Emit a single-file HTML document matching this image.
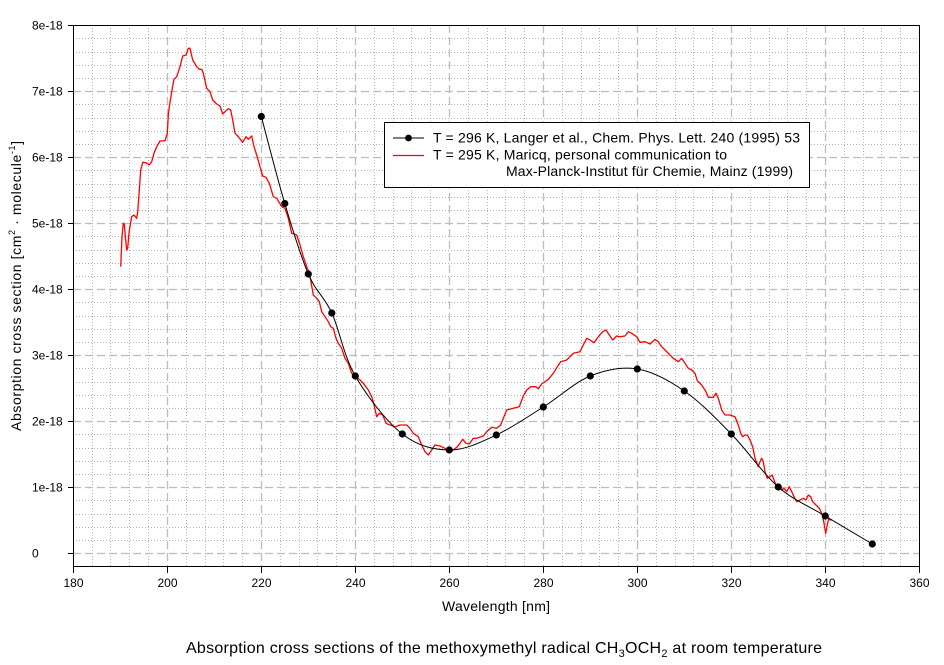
<!DOCTYPE html>
<html><head><meta charset="utf-8"><style>
html,body{margin:0;padding:0;background:#fff;}
svg{display:block;}
text{font-family:"Liberation Sans",Arial,sans-serif;fill:#000;}
</style></head><body>
<svg width="944" height="665" viewBox="0 0 944 665" xmlns="http://www.w3.org/2000/svg">
<rect x="0" y="0" width="944" height="665" fill="#fff"/>
<!-- minor dotted grid -->
<path fill="none" stroke="#b4b4b4" stroke-width="1" stroke-dasharray="1,2" d="
M92.5,25V566 M110.5,25V566 M129.5,25V566 M148.5,25V566
M186.5,25V566 M205.5,25V566 M223.5,25V566 M242.5,25V566
M280.5,25V566 M299.5,25V566 M317.5,25V566 M336.5,25V566
M374.5,25V566 M393.5,25V566 M411.5,25V566 M430.5,25V566
M468.5,25V566 M487.5,25V566 M505.5,25V566 M524.5,25V566
M562.5,25V566 M581.5,25V566 M599.5,25V566 M618.5,25V566
M656.5,25V566 M675.5,25V566 M693.5,25V566 M712.5,25V566
M750.5,25V566 M769.5,25V566 M787.5,25V566 M806.5,25V566
M844.5,25V566 M863.5,25V566 M881.5,25V566 M900.5,25V566
M73,540.5H919 M73,527.5H919 M73,514.5H919 M73,500.5H919
M73,474.5H919 M73,461.5H919 M73,448.5H919 M73,434.5H919
M73,408.5H919 M73,395.5H919 M73,382.5H919 M73,368.5H919
M73,342.5H919 M73,329.5H919 M73,316.5H919 M73,302.5H919
M73,276.5H919 M73,263.5H919 M73,250.5H919 M73,236.5H919
M73,210.5H919 M73,197.5H919 M73,184.5H919 M73,170.5H919
M73,144.5H919 M73,131.5H919 M73,118.5H919 M73,104.5H919
M73,78.5H919 M73,65.5H919 M73,52.5H919 M73,38.5H919"/>
<!-- major dashed grid -->
<path fill="none" stroke="#bcbcbc" stroke-width="1.3" stroke-dasharray="8,4" d="
M167.5,25V566 M261.5,25V566 M355.5,25V566 M449.5,25V566 M543.5,25V566
M637.5,25V566 M731.5,25V566 M825.5,25V566
M73,553.5H919 M73,487.5H919 M73,421.5H919 M73,355.5H919 M73,289.5H919
M73,223.5H919 M73,157.5H919 M73,91.5H919"/>
<!-- frame -->
<rect x="73.5" y="25.5" width="846" height="541" fill="none" stroke="#000" stroke-width="1"/>
<!-- ticks -->
<path fill="none" stroke="#000" stroke-width="1" d="
M68,553.5H73 M68,487.5H73 M68,421.5H73 M68,355.5H73 M68,289.5H73 M68,223.5H73 M68,157.5H73 M68,91.5H73 M68,25.5H73
M73.5,566V573 M167.5,566V573 M261.5,566V573 M355.5,566V573 M449.5,566V573 M543.5,566V573 M637.5,566V573 M731.5,566V573 M825.5,566V573 M919.5,566V573"/>
<!-- y tick labels -->
<g font-size="12">
<text x="32" y="557.5">0</text>
<text x="32" y="491.5">1e-18</text>
<text x="32" y="425.5">2e-18</text>
<text x="32" y="359.5">3e-18</text>
<text x="32" y="293.5">4e-18</text>
<text x="32" y="227.5">5e-18</text>
<text x="32" y="161.5">6e-18</text>
<text x="32" y="95.5">7e-18</text>
<text x="32" y="29.5">8e-18</text>
</g>
<!-- x tick labels -->
<g font-size="12" text-anchor="middle">
<text x="73.5" y="587">180</text>
<text x="167.5" y="587">200</text>
<text x="261.5" y="587">220</text>
<text x="355.5" y="587">240</text>
<text x="449.5" y="587">260</text>
<text x="543.5" y="587">280</text>
<text x="637.5" y="587">300</text>
<text x="731.5" y="587">320</text>
<text x="825.5" y="587">340</text>
<text x="919.5" y="587">360</text>
</g>
<!-- axis titles -->
<text x="496" y="611" font-size="14" text-anchor="middle" textLength="108" lengthAdjust="spacing">Wavelength [nm]</text>
<text transform="translate(21,286) rotate(-90)" font-size="14" text-anchor="middle" textLength="290" lengthAdjust="spacing">Absorption cross section [cm<tspan font-size="9" dy="-6">2</tspan><tspan dy="6"> · molecule</tspan><tspan font-size="9" dy="-6">-1</tspan><tspan dy="6">]</tspan></text>
<text x="186" y="653" font-size="16" textLength="636" lengthAdjust="spacing">Absorption cross sections of the methoxymethyl radical CH<tspan font-size="11" dy="4">3</tspan><tspan dy="-4">OCH</tspan><tspan font-size="11" dy="4">2</tspan><tspan dy="-4"> at room temperature</tspan></text>
<!-- red series -->
<polyline fill="none" stroke="#ff0000" stroke-width="1.3" stroke-linejoin="round" points="
120.7,266.7 122,237 123.3,223.3 124.3,224 125.3,236 126.7,250 127.7,248 128.7,236 129.7,228 131.7,216.7 134,215 136.7,218.3 137.7,212 139.3,190 140.7,170 142.7,162.3 146,162.7 149.3,165 151.7,161.7 154,153.3 156.7,146.7 160,141 165,140.7 167.3,133.3 168.3,115 169.3,106.7 171.7,91.7 174,79.3 176.7,76.7 180,66.7 182.7,56 186,55 188.3,48.3 190,48.3 192.7,60 196.7,66.7 199.3,69.3 201.7,69.3 203.3,73.3 206.7,88.3 210,91.7 212.7,100 216.7,104 220,106 222.7,114 225,111.7 228.3,108.7 230.7,110 233.3,123.3 235,133.3 238.3,136.7 242.7,142.3 246,136.7 248.3,139.3 251.7,136 254,146.7 256.7,155 260,166.7 262.7,176 266,177.3 269.3,183.3 273.3,196.7 276.7,198.3 281.7,206.7 285,208.3
288.3,218.3 291.7,233.3 296.7,235 300,245 303.3,256.7 306.7,266.7 309.3,273.3 310.7,280 313.3,295 316.7,298.3 319.3,301.7 321.7,311.7 325,316.7 328.3,321.7 330.7,326.7 333.3,328.3 336,338.3 338.3,343.3 341.7,348.3 345,358.3 348.3,363.3 351.7,373.3 355,376 360,380 363.3,383.3 368.3,390 371.7,396.7 373.3,401.7 376.7,416.7 379.3,413.3 382.7,415 386,423.3 390,425 395,426.7 400,425 406.7,425 410,428.3 413.3,433.3 418.3,436.7 421.7,445 425,451.7 428.3,455 431.7,450 435,445 440,446 445,448.3 448.3,450 453.3,450 457.3,446.7 460,443.3 462.7,439.3 466,443.3 469.3,444 473.3,438.3 476.7,438.3
483.3,436 486.7,431.7 491.7,427.3 496.7,428.3 500.7,425 503.3,418.3 506.7,410 513.3,408.3 519.3,406.7 523.3,396 526.7,390 530.7,386.7 535.7,386.7 538.3,388.7 541.7,384 548.3,379.3 553.3,373.3 557.3,366.7 560.7,361.7 566.7,360 570,356.7 573.3,353.3 580,351.7 583.3,345 586.7,338.3 590,340 594,342.7 598.3,336.7 602.7,331.7 606,330 609.3,335 612.7,340 616.7,336 620,336.7
625,336 628.3,331.7 631.7,333.3 636.7,336.7 640,342.3 645,341.7 650,344 655,339.3 658.3,341.7 661.7,346.7 665,350 670,355 673.3,358.3 678.3,361.7 681.7,358.3 685,363.3 688.3,368.3 691.7,370 695,373.3 697.3,380.7 701.7,385 706,391.7 708.3,397.3 713.3,397.3 716,393.3 718.3,398.3 721.7,410 725,415 730,415 735,416.7 738.3,425 740.7,433.3
742.7,436.7 745,435 747.3,435 750,440 752.7,446.7 755,458.3 758.3,466.7 760,461.7 761.7,458.3 763.3,461.7 765,471.7 767.3,478.3 770,476.7 772.3,475 774,480 776,485 778.3,488.3 780,485 781.7,490 784,488.3 786.7,491.7 789.3,486.7 791.7,491.7 794,496.7 796.7,501.7 800,500 803.3,498.3 806,500 808.3,495 810.7,496.7 812.7,501.7 816,505 819.3,508.3 821,511.7 822.7,516.7 824,523.3 825.7,533.3 827.3,525 828.7,518.3 830,520 831.7,520"/>
<!-- black series -->
<path fill="none" stroke="#000" stroke-width="1" d="M261.3,116.5 C265.2,131 277,177.3 284.8,203.5 C292.6,229.8 300.5,255.8 308.3,274 C316.1,292.3 324,296 331.8,313 C339.6,330 343.6,355.8 355.3,376 C367,396.2 386.6,421.7 402.3,434 C418,446.3 433.6,449.8 449.3,450 C465,450.2 480.6,442.2 496.3,435 C512,427.8 527.6,416.8 543.3,407 C559,397.2 574.6,382.3 590.3,376 C606,369.7 621.6,366.5 637.3,369 C653,371.5 668.6,380.2 684.3,391 C700,401.8 715.6,418 731.3,434 C747,450 762.6,473.3 778.3,487 C794,500.7 809.6,506.5 825.3,516 C841,525.5 864.5,539.3 872.3,544"/>
<g fill="#000">
<circle cx="261.3" cy="116.5" r="3.6"/>
<circle cx="284.8" cy="203.5" r="3.6"/>
<circle cx="308.3" cy="274" r="3.6"/>
<circle cx="331.8" cy="313" r="3.6"/>
<circle cx="355.3" cy="376" r="3.6"/>
<circle cx="402.3" cy="434" r="3.6"/>
<circle cx="449.3" cy="450" r="3.6"/>
<circle cx="496.3" cy="435" r="3.6"/>
<circle cx="543.3" cy="407" r="3.6"/>
<circle cx="590.3" cy="376" r="3.6"/>
<circle cx="637.3" cy="369" r="3.6"/>
<circle cx="684.3" cy="391" r="3.6"/>
<circle cx="731.3" cy="434" r="3.6"/>
<circle cx="778.3" cy="487" r="3.6"/>
<circle cx="825.3" cy="516" r="3.6"/>
<circle cx="872.3" cy="544" r="3.6"/>
</g>
<!-- legend -->
<rect x="384.5" y="122.5" width="425" height="65" fill="#fff" stroke="#000" stroke-width="1"/>
<line x1="393" y1="138" x2="424" y2="138" stroke="#000" stroke-width="1"/>
<circle cx="408.5" cy="138" r="3.4" fill="#000"/>
<line x1="393" y1="155.5" x2="424" y2="155.5" stroke="#ff0000" stroke-width="1.3"/>
<g font-size="14">
<text x="433" y="142.5" textLength="367" lengthAdjust="spacing">T = 296 K, Langer et al., Chem. Phys. Lett. 240 (1995) 53</text>
<text x="433" y="159.5" textLength="294" lengthAdjust="spacing">T = 295 K, Maricq, personal communication to</text>
<text x="506" y="176" textLength="287" lengthAdjust="spacing">Max-Planck-Institut für Chemie, Mainz (1999)</text>
</g>
</svg>
</body></html>
